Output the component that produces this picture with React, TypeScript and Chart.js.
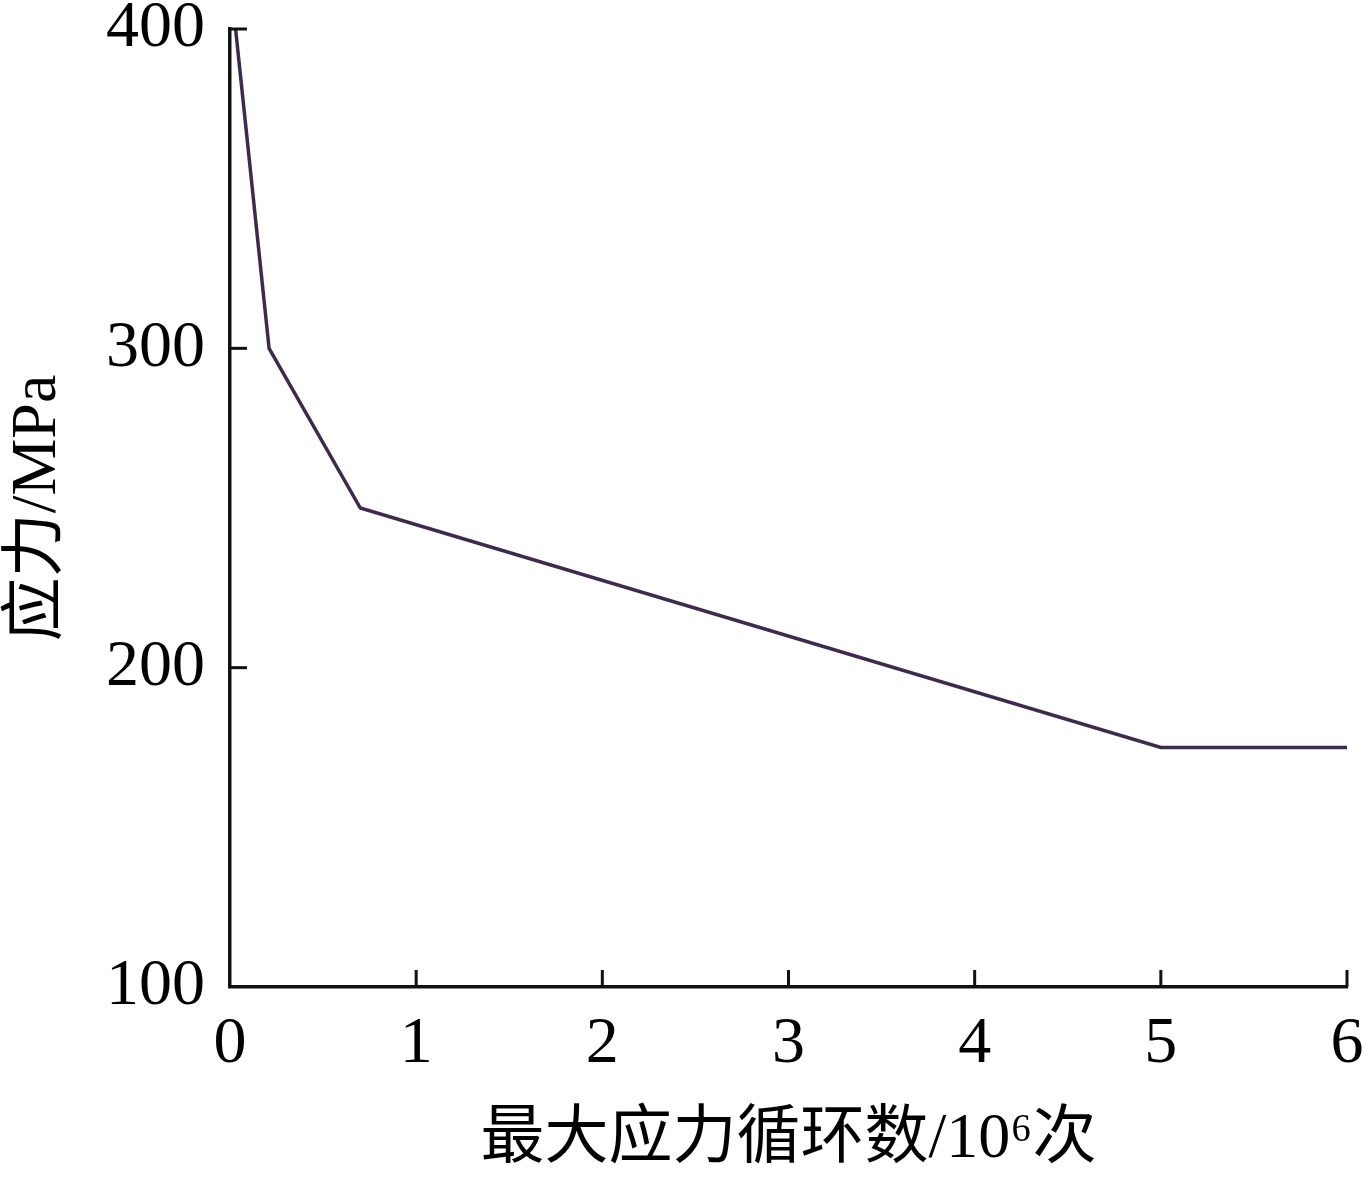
import React, { useEffect, useRef } from "react";
import { Chart, registerables } from "chart.js";

Chart.register(...registerables);

const cycles = [0.03, 0.21, 0.7, 5, 6];
const stress = [400, 300, 250, 175, 175];
const xTitle = "最大应力循环数/10⁶次";
const yTitle = "应力/MPa";

const FONT = '"Liberation Serif", "Noto Sans CJK SC", serif';

const innerTicks = {
  id: "innerTicks",
  afterDraw(chart: any) {
    const { ctx, chartArea, scales } = chart;
    const len = 17;
    ctx.save();
    ctx.strokeStyle = "#111";
    ctx.lineWidth = 3;
    scales.x.ticks.forEach((t: any) => {
      if (t.value === scales.x.min) return;
      const px = scales.x.getPixelForValue(t.value);
      ctx.beginPath();
      ctx.moveTo(px, chartArea.bottom);
      ctx.lineTo(px, chartArea.bottom - len);
      ctx.stroke();
    });
    scales.y.ticks.forEach((t: any) => {
      if (t.value === scales.y.min) return;
      const py = scales.y.getPixelForValue(t.value);
      ctx.beginPath();
      ctx.moveTo(chartArea.left, py);
      ctx.lineTo(chartArea.left + len, py);
      ctx.stroke();
    });
    ctx.restore();
  },
};

export default function App() {
  const ref = useRef<HTMLCanvasElement>(null);
  useEffect(() => {
    document.body.style.margin = "0";
    const chart = new Chart(ref.current!, {
      type: "line",
      data: {
        datasets: [
          {
            data: cycles.map((c, i) => ({ x: c, y: stress[i] })),
            borderColor: "#3e2a4e",
            borderWidth: 3.5,
            pointRadius: 0,
            fill: false,
            tension: 0,
            clip: false as any,
          },
        ],
      },
      options: {
        animation: false,
        responsive: false,
        layout: { padding: { top: 29, right: 17, left: 0, bottom: 0 } },
        plugins: { legend: { display: false }, tooltip: { enabled: false } },
        scales: {
          x: {
            type: "linear",
            min: 0,
            max: 6,
            ticks: {
              stepSize: 1,
              padding: 18,
              color: "#000",
              font: { family: FONT, size: 66 },
            },
            grid: { display: true, drawOnChartArea: false, drawTicks: false },
            border: { display: true, color: "#111", width: 3.5 },
            title: {
              display: true,
              text: xTitle,
              color: "#000",
              font: { family: FONT, size: 64 },
              padding: { top: 5, bottom: 0 },
            },
            afterFit(scale: any) {
              scale.height = 192;
              scale.paddingLeft = 0;
              scale.paddingRight = 0;
            },
          },
          y: {
            type: "linear",
            min: 100,
            max: 400,
            ticks: {
              stepSize: 100,
              padding: 25,
              color: "#000",
              font: { family: FONT, size: 66 },
            },
            grid: { display: true, drawOnChartArea: false, drawTicks: false },
            border: { display: true, color: "#111", width: 3.5 },
            title: {
              display: true,
              text: yTitle,
              color: "#000",
              font: { family: FONT, size: 64 },
              padding: { top: 0, bottom: 0 },
            },
            afterFit(scale: any) {
              scale.width = 230;
              scale.paddingTop = 0;
              scale.paddingBottom = 0;
            },
          },
        },
      },
      plugins: [innerTicks],
    });
    return () => chart.destroy();
  }, []);
  return (
    <canvas
      ref={ref}
      width={1364}
      height={1179}
      style={{ display: "block", width: 1364, height: 1179 }}
    />
  );
}
